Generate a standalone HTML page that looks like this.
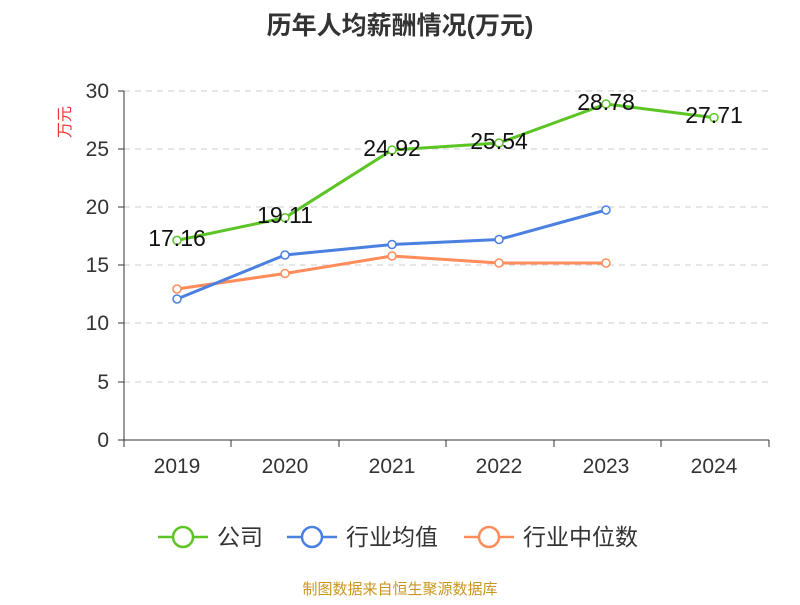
<!DOCTYPE html>
<html><head><meta charset="utf-8"><style>
body{margin:0;background:#fff;}
svg text{font-family:"Liberation Sans","Noto Sans CJK SC",sans-serif;}
</style></head><body>
<svg width="800" height="600" xmlns="http://www.w3.org/2000/svg">
<rect width="800" height="600" fill="#fff"/>
<text x="400" y="34" text-anchor="middle" font-size="25" font-weight="bold" fill="#333">历年人均薪酬情况(万元)</text>
<text x="70" y="122" font-size="16" fill="#e33" transform="rotate(-90 70 122)" text-anchor="middle">万元</text>
<g stroke="#ccc" stroke-dasharray="6,5" stroke-width="1">
<line x1="124" y1="91" x2="769" y2="91"/><line x1="124" y1="149" x2="769" y2="149"/>
<line x1="124" y1="207" x2="769" y2="207"/><line x1="124" y1="265" x2="769" y2="265"/>
<line x1="124" y1="323" x2="769" y2="323"/><line x1="124" y1="382" x2="769" y2="382"/>
</g>
<g stroke="#333" stroke-width="1">
<line x1="124" y1="91" x2="124" y2="440"/><line x1="124" y1="440" x2="769" y2="440"/>
<line x1="118" y1="91" x2="124" y2="91"/><line x1="118" y1="149" x2="124" y2="149"/><line x1="118" y1="207" x2="124" y2="207"/>
<line x1="118" y1="265" x2="124" y2="265"/><line x1="118" y1="323" x2="124" y2="323"/><line x1="118" y1="382" x2="124" y2="382"/><line x1="118" y1="440" x2="124" y2="440"/>
<line x1="124" y1="440" x2="124" y2="447"/><line x1="231" y1="440" x2="231" y2="447"/><line x1="339" y1="440" x2="339" y2="447"/>
<line x1="446" y1="440" x2="446" y2="447"/><line x1="554" y1="440" x2="554" y2="447"/><line x1="661" y1="440" x2="661" y2="447"/><line x1="769" y1="440" x2="769" y2="447"/>
</g>
<g font-size="21" fill="#333" text-anchor="end">
<text x="109" y="98">30</text><text x="109" y="156">25</text><text x="109" y="214">20</text><text x="109" y="272">15</text>
<text x="109" y="330">10</text><text x="109" y="389">5</text><text x="109" y="447">0</text>
</g>
<g font-size="21" fill="#333" text-anchor="middle">
<text x="177" y="473">2019</text><text x="285" y="473">2020</text><text x="392" y="473">2021</text>
<text x="499" y="473">2022</text><text x="606" y="473">2023</text><text x="714" y="473">2024</text>
</g>
<g fill="none" stroke-width="3">
<polyline stroke="#ff8c5a" points="177,289 285,273.5 392,256 499,263 606,263"/>
<polyline stroke="#4a80e0" points="177,299 285,255 392,244.5 499,239.5 606,210"/>
<polyline stroke="#5cc425" points="177,240.4 285,217.7 392,150 499,143 606,104 714,117.6"/>
</g>
<g fill="#fff" stroke-width="1.5">
<g stroke="#ff8c5a"><circle cx="177" cy="289" r="4"/><circle cx="285" cy="273.5" r="4"/><circle cx="392" cy="256" r="4"/><circle cx="499" cy="263" r="4"/><circle cx="606" cy="263" r="4"/></g>
<g stroke="#4a80e0"><circle cx="177" cy="299" r="4"/><circle cx="285" cy="255" r="4"/><circle cx="392" cy="244.5" r="4"/><circle cx="499" cy="239.5" r="4"/><circle cx="606" cy="210" r="4"/></g>
<g stroke="#5cc425"><circle cx="177" cy="240.4" r="4"/><circle cx="285" cy="217.7" r="4"/><circle cx="392" cy="150" r="4"/><circle cx="499" cy="143" r="4"/><circle cx="606" cy="104" r="4"/><circle cx="714" cy="117.6" r="4"/></g>
</g>
<g font-size="23" fill="#111" text-anchor="middle">
<text x="177" y="246">17.16</text><text x="285" y="223">19.11</text><text x="392" y="156">24.92</text>
<text x="499" y="149">25.54</text><text x="606" y="110">28.78</text><text x="714" y="123">27.71</text>
</g>
<g stroke-width="2.5" fill="#fff">
<line x1="158" y1="537" x2="208" y2="537" stroke="#5cc425"/><circle cx="183" cy="537" r="10" stroke="#5cc425"/>
<line x1="287" y1="537" x2="337" y2="537" stroke="#4a80e0"/><circle cx="312" cy="537" r="10" stroke="#4a80e0"/>
<line x1="464" y1="537" x2="514" y2="537" stroke="#ff8c5a"/><circle cx="489" cy="537" r="10" stroke="#ff8c5a"/>
</g>
<g font-size="23" fill="#333">
<text x="217" y="545">公司</text><text x="346" y="545">行业均值</text><text x="523" y="545">行业中位数</text>
</g>
<text x="400" y="594" text-anchor="middle" font-size="15" fill="#c8961e">制图数据来自恒生聚源数据库</text>
</svg>
</body></html>
